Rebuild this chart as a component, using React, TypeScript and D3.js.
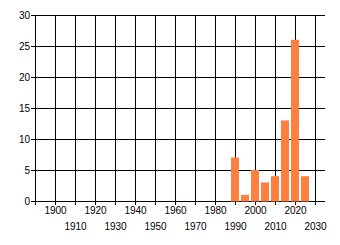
import React from "react";
import * as d3 from "d3";

const years = [1990, 1995, 2000, 2005, 2010, 2015, 2020, 2025];
const counts = [7, 1, 5, 3, 4, 13, 26, 4];
const xTicks = [1890, 1900, 1910, 1920, 1930, 1940, 1950, 1960, 1970, 1980, 1990, 2000, 2010, 2020, 2030];
const xLabels = ["", "1900", "1910", "1920", "1930", "1940", "1950", "1960", "1970", "1980", "1990", "2000", "2010", "2020", "2030"];
const yTicks = [0, 5, 10, 15, 20, 25, 30];

const W = 340;
const H = 245;

export default function App() {
  const x = d3.scaleLinear().domain([1890, 2035]).range([35, 325]);
  const y = d3.scaleLinear().domain([0, 30]).range([201, 15]);
  const font = "'Liberation Sans', Arial, sans-serif";
  const px = (v: number) => Math.round(v) + 0.5;
  return (
    <svg width={W} height={H} style={{ position: "absolute", left: 0, top: 0, background: "#fff" }}>
      <rect x={0} y={0} width={W} height={H} fill="#fff" />
      {/* horizontal grid */}
      {yTicks.map((t) => (
        <line key={"h" + t} x1={31} x2={325} y1={px(y(t))} y2={px(y(t))} stroke="#000" strokeWidth={1} />
      ))}
      {/* vertical grid + ticks */}
      {xTicks.map((t) => (
        <line key={"v" + t} x1={px(x(t))} x2={px(x(t))} y1={15} y2={205} stroke="#000" strokeWidth={1} />
      ))}
      {/* bars */}
      {years.map((yr, i) => (
        <rect
          key={"b" + yr}
          x={Math.round(x(yr)) - 4}
          y={y(counts[i])}
          width={8}
          height={y(0) - y(counts[i]) + 0.5}
          fill="#FF7F40"
        />
      ))}
      {/* y labels */}
      {yTicks.map((t) => (
        <text key={"yl" + t} x={30} y={px(y(t)) + 3.5} textAnchor="end" fontFamily={font} fontSize={10} fill="#000">
          {t}
        </text>
      ))}
      {/* x labels */}
      {xTicks.map((t, i) =>
        xLabels[i] ? (
          <text
            key={"xl" + t}
            x={px(x(t))}
            y={i % 2 === 1 ? 214 : 230}
            textAnchor="middle"
            fontFamily={font}
            fontSize={10}
            fill="#000"
          >
            {xLabels[i]}
          </text>
        ) : null
      )}
    </svg>
  );
}
